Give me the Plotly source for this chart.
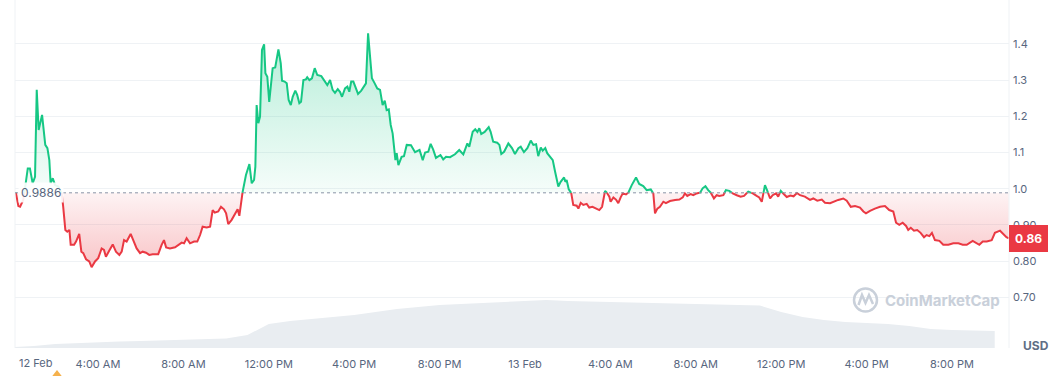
import plotly.graph_objects as go

# ---------------- data ----------------
# hours since 12 Feb 00:00
hours = [0.15,0.27,0.35,0.50,0.63,0.71,0.81,0.94,1.05,1.13,1.22,1.38,1.44,1.53,1.63,1.72,1.78,1.88,1.99,2.14,
 2.30,2.37,2.47,2.56,2.66,2.72,2.88,2.97,3.12,3.22,3.31,3.44,3.59,3.70,3.86,4.01,4.17,4.28,4.37,4.53,
 4.69,4.84,5.00,5.11,5.22,5.34,5.53,5.65,5.81,5.97,6.09,6.25,6.40,6.56,6.82,6.98,7.09,7.19,7.37,7.61,
 7.76,7.92,8.03,8.15,8.31,8.50,8.65,8.78,8.90,9.09,9.25,9.37,9.47,9.63,9.76,9.90,10.00,10.10,10.26,10.42,
 10.54,10.62,10.77,10.93,11.09,11.20,11.31,11.37,11.43,11.51,11.59,11.68,11.78,11.84,11.93,12.02,12.18,12.30,12.45,12.56,
 12.62,12.74,12.84,12.93,13.03,13.12,13.24,13.33,13.43,13.51,13.62,13.74,13.80,13.90,14.02,14.15,14.27,14.46,14.59,14.74,
 14.87,14.99,15.10,15.23,15.34,15.43,15.57,15.68,15.77,15.86,15.96,16.05,16.18,16.33,16.46,16.55,16.65,16.74,16.83,16.96,
 17.08,17.21,17.33,17.43,17.52,17.62,17.71,17.80,17.93,17.99,18.07,18.22,18.33,18.46,18.66,18.85,19.06,19.21,19.32,19.47,
 19.58,19.70,19.83,20.04,20.17,20.30,20.49,20.72,20.92,21.11,21.30,21.39,21.55,21.67,21.77,21.86,21.95,22.11,22.30,22.39,
 22.51,22.70,22.80,22.89,23.02,23.22,23.39,23.53,23.69,23.80,23.95,24.11,24.27,24.39,24.52,24.62,24.74,24.83,24.95,25.04,
 25.17,25.30,25.41,25.56,25.67,25.77,25.83,25.89,25.95,26.05,26.16,26.26,26.42,26.50,26.61,26.73,26.89,27.01,27.16,27.33,
 27.48,27.61,27.75,27.83,27.95,28.01,28.14,28.26,28.37,28.48,28.58,28.73,28.84,29.00,29.20,29.35,29.54,29.70,29.89,30.01,
 30.09,30.20,30.32,30.48,30.60,30.79,31.03,31.23,31.39,31.49,31.60,31.76,31.88,32.04,32.20,32.32,32.45,32.58,32.70,32.85,
 32.98,33.10,33.29,33.41,33.57,33.73,33.92,34.10,34.26,34.46,34.67,34.85,34.97,35.09,35.24,35.35,35.48,35.60,35.76,35.86,
 35.98,36.10,36.26,36.43,36.58,36.74,36.88,37.11,37.35,37.50,37.69,37.90,38.05,38.29,38.44,38.67,38.91,39.07,39.26,39.46,
 39.69,39.85,39.97,40.16,40.39,40.63,40.86,41.06,41.25,41.38,41.53,41.69,41.85,41.95,42.07,42.22,42.37,42.53,42.69,42.81,
 42.94,43.06,43.20,43.41,43.59,43.83,44.06,44.30,44.50,44.69,44.97,45.16,45.28,45.44,45.63,45.86,46.01,46.25,46.40,46.55,
 46.66]

price = [0.990,0.952,0.950,0.969,1.019,1.056,1.056,1.015,1.033,1.273,1.162,1.204,1.171,1.121,1.112,1.079,1.015,1.029,1.010,1.006,
 0.987,0.950,0.886,0.881,0.886,0.845,0.845,0.854,0.875,0.826,0.822,0.805,0.799,0.783,0.799,0.808,0.835,0.831,0.812,0.829,
 0.846,0.826,0.817,0.826,0.858,0.854,0.875,0.858,0.835,0.822,0.826,0.823,0.817,0.819,0.819,0.845,0.858,0.838,0.835,0.838,
 0.845,0.851,0.849,0.863,0.849,0.854,0.854,0.872,0.895,0.893,0.895,0.941,0.934,0.937,0.950,0.943,0.932,0.902,0.914,0.930,
 0.943,0.925,0.990,1.038,1.068,1.015,1.024,1.061,1.231,1.181,1.199,1.383,1.399,1.319,1.309,1.240,1.333,1.335,1.385,1.346,
 1.298,1.296,1.291,1.245,1.231,1.254,1.271,1.259,1.236,1.240,1.300,1.302,1.308,1.300,1.305,1.333,1.314,1.311,1.300,1.286,
 1.300,1.273,1.265,1.275,1.267,1.254,1.277,1.282,1.268,1.296,1.296,1.282,1.262,1.271,1.282,1.291,1.429,1.356,1.305,1.291,
 1.277,1.273,1.231,1.243,1.217,1.219,1.176,1.153,1.079,1.098,1.065,1.088,1.090,1.121,1.120,1.101,1.107,1.079,1.100,1.102,
 1.124,1.108,1.085,1.093,1.081,1.088,1.087,1.095,1.107,1.095,1.125,1.116,1.157,1.164,1.157,1.167,1.151,1.157,1.170,1.157,
 1.130,1.127,1.121,1.096,1.102,1.125,1.112,1.096,1.112,1.116,1.101,1.112,1.133,1.121,1.123,1.090,1.114,1.105,1.112,1.098,
 1.087,1.079,1.047,1.006,1.019,1.026,1.031,1.019,1.024,0.998,0.990,0.955,0.953,0.945,0.961,0.955,0.958,0.948,0.950,0.945,
 0.941,0.950,0.994,0.989,0.978,0.964,0.976,0.970,0.960,0.976,0.987,0.984,0.989,1.010,1.031,1.013,1.007,0.996,0.998,0.987,
 0.932,0.945,0.950,0.964,0.960,0.966,0.969,0.970,0.976,0.987,0.980,0.985,0.982,0.987,0.989,1.001,1.007,0.996,0.989,0.973,
 0.982,0.980,0.982,0.996,0.994,0.987,0.982,0.978,0.980,0.992,0.987,0.980,0.976,0.964,1.010,0.994,0.973,0.982,0.987,0.978,
 0.994,0.986,0.977,0.981,0.979,0.988,0.982,0.978,0.969,0.973,0.967,0.970,0.961,0.960,0.964,0.969,0.973,0.967,0.950,0.952,
 0.948,0.937,0.932,0.939,0.945,0.950,0.952,0.941,0.937,0.906,0.900,0.906,0.897,0.886,0.892,0.884,0.886,0.878,0.866,0.872,
 0.869,0.878,0.858,0.856,0.845,0.845,0.849,0.849,0.845,0.845,0.856,0.849,0.845,0.854,0.854,0.858,0.878,0.884,0.876,0.866,
 0.863]

open_price = 0.9886
last_label = "0.86"

vol_hours = list(range(0, 47))
volume_m = [1,2,4,5,6,6.5,7,7.5,8,8.5,9.5,13,24,27,29,31,33,36,39,41,43,44,45,46,47,48,47,46.5,46,45.5,
            45,44.5,44,43.5,43,42.5,36,31,28,26,25,24,22,19,18,17.5,17]

x_tick_vals = [4, 8, 12, 16, 20, 24, 28, 32, 36, 40, 44]
x_tick_text = ["4:00 AM", "8:00 AM", "12:00 PM", "4:00 PM", "8:00 PM", "13 Feb",
               "4:00 AM", "8:00 AM", "12:00 PM", "4:00 PM", "8:00 PM"]
first_day_label = "12 Feb"
y_tick_vals = [0.7, 0.8, 0.9, 1.0, 1.1, 1.2, 1.3, 1.4]
y_tick_text = ["0.70", "0.80", "0.90", "1.0", "1.1", "1.2", "1.3", "1.4"]

GREEN = "#16c784"
RED = "#ea3943"
GRID = "#eff2f5"
TXT = "#58667e"

# ---------- split at open price ----------
t_aug, v_aug = [], []
for i in range(len(hours)):
    if i > 0:
        v0, v1 = price[i - 1], price[i]
        if (v0 - open_price) * (v1 - open_price) < 0:
            t0, t1 = hours[i - 1], hours[i]
            tc = t0 + (open_price - v0) / (v1 - v0) * (t1 - t0)
            t_aug.append(tc)
            v_aug.append(open_price)
    t_aug.append(hours[i])
    v_aug.append(price[i])

upper = [max(v, open_price) for v in v_aug]
lower = [min(v, open_price) for v in v_aug]
green_line = [v if v >= open_price else None for v in v_aug]
red_line = [v if v <= open_price else None for v in v_aug]
base = [open_price] * len(t_aug)

fig = go.Figure()

fig.add_trace(go.Scatter(x=vol_hours, y=volume_m, yaxis="y2", mode="lines",
                         line=dict(width=0), fill="tozeroy", fillcolor="#e9edf1",
                         hoverinfo="skip", showlegend=False))

fig.add_trace(go.Scatter(x=t_aug, y=base, mode="lines", line=dict(width=0),
                         hoverinfo="skip", showlegend=False))
fig.add_trace(go.Scatter(x=t_aug, y=upper, mode="lines", line=dict(width=0),
                         fill="tonexty",
                         fillgradient=dict(type="vertical",
                                           colorscale=[[0, "rgba(22,199,132,0.04)"], [1, "rgba(22,199,132,0.32)"]],
                                           start=open_price, stop=1.43),
                         hoverinfo="skip", showlegend=False))
fig.add_trace(go.Scatter(x=t_aug, y=base, mode="lines", line=dict(width=0),
                         hoverinfo="skip", showlegend=False))
fig.add_trace(go.Scatter(x=t_aug, y=lower, mode="lines", line=dict(width=0),
                         fill="tonexty",
                         fillgradient=dict(type="vertical",
                                           colorscale=[[0, "rgba(234,57,67,0.30)"], [1, "rgba(234,57,67,0.06)"]],
                                           start=0.78, stop=open_price),
                         hoverinfo="skip", showlegend=False))

fig.add_trace(go.Scatter(x=t_aug, y=green_line, mode="lines",
                         line=dict(color=GREEN, width=2), connectgaps=False, showlegend=False))
fig.add_trace(go.Scatter(x=t_aug, y=red_line, mode="lines",
                         line=dict(color=RED, width=2), connectgaps=False, showlegend=False))

L, R, T, B = 15, 51, 0, 28
W, H = 1060, 376
pw, ph = W - L - R, H - T - B


def px(xp):
    return (xp - L) / pw


def py(yp):
    return (H - B - yp) / ph


fig.update_layout(
    width=W, height=H,
    margin=dict(l=L, r=R, t=T, b=B, pad=0, autoexpand=False),
    paper_bgcolor="white", plot_bgcolor="white",
    font=dict(family="Inter, Roboto, sans-serif", color=TXT, size=11),
    showlegend=False,
    xaxis=dict(range=[0.112, 46.67], tickvals=x_tick_vals, ticktext=x_tick_text,
               showgrid=False, zeroline=False, showline=False, ticks="", automargin=False,
               ticklabelstandoff=8, tickfont=dict(size=11, color=TXT)),
    yaxis=dict(range=[0.5599, 1.5213], side="right", tickvals=y_tick_vals, ticktext=y_tick_text,
               showgrid=True, gridcolor=GRID, gridwidth=1, zeroline=False, showline=False,
               ticks="", automargin=False, ticklabelstandoff=3, tickfont=dict(size=11, color=TXT)),
    yaxis2=dict(range=[0, 348], overlaying="y", visible=False),
)

# plot frame lines
fig.add_shape(type="line", xref="paper", yref="paper", x0=0, x1=0, y0=0, y1=1,
              line=dict(color=GRID, width=1))
fig.add_shape(type="line", xref="paper", yref="paper", x0=1, x1=1, y0=0, y1=1,
              line=dict(color=GRID, width=1))
# dotted open price line
fig.add_shape(type="line", xref="paper", yref="y", x0=0, x1=1, y0=open_price, y1=open_price,
              line=dict(color="#8a94a6", width=1, dash="dot"))

# open price label
fig.add_annotation(xref="paper", yref="y", x=px(18), y=open_price, xanchor="left", yanchor="middle",
                   text=f"{open_price:.4f}", showarrow=False,
                   font=dict(size=12, color=TXT), bgcolor="rgba(255,255,255,0.9)", borderpad=2)

# last price badge
fig.add_annotation(xref="paper", yref="y", x=1.0, y=price[-1], xanchor="left", yanchor="middle",
                   text=f"<b>{last_label}</b>", showarrow=False,
                   font=dict(size=12, color="white"), bgcolor=RED, bordercolor=RED,
                   borderwidth=1, borderpad=5)

# first day label
fig.add_annotation(xref="paper", yref="paper", x=px(17), y=py(363), xanchor="left", yanchor="middle",
                   text=first_day_label, showarrow=False, font=dict(size=11, color=TXT))

# USD label
fig.add_annotation(xref="paper", yref="paper", x=px(1036), y=py(345), xanchor="center", yanchor="middle",
                   text="<b>USD</b>", showarrow=False, font=dict(size=12, color="#616e85"))

# watermark
WM = "#c9d0da"
fig.add_annotation(xref="paper", yref="paper", x=px(883), y=py(300), xanchor="left", yanchor="middle",
                   text="<b>CoinMarketCap</b>", showarrow=False, font=dict(size=15, color=WM))
fig.add_shape(type="circle", xref="paper", yref="paper", x0=px(854), x1=px(877), y0=py(311.5), y1=py(288.5),
              line=dict(color=WM, width=2.5))
m_path = "M {} {} L {} {} L {} {} L {} {} L {} {}".format(
    px(858.5), py(305), px(862), py(295), px(865.5), py(303), px(869), py(295), px(873), py(304))
fig.add_shape(type="path", xref="paper", yref="paper", path=m_path, line=dict(color=WM, width=2.5))

# event marker triangle
tri = "M {} {} L {} {} L {} {} Z".format(px(51.5), py(377), px(57), py(370), px(62.5), py(377))
fig.add_shape(type="path", xref="paper", yref="paper", path=tri, fillcolor="#f5b14c",
              line=dict(color="#f5b14c", width=0))

fig.write_html("out.html", config={"displayModeBar": False},
               post_script="document.body.style.margin='0';document.body.style.overflow='hidden';")
